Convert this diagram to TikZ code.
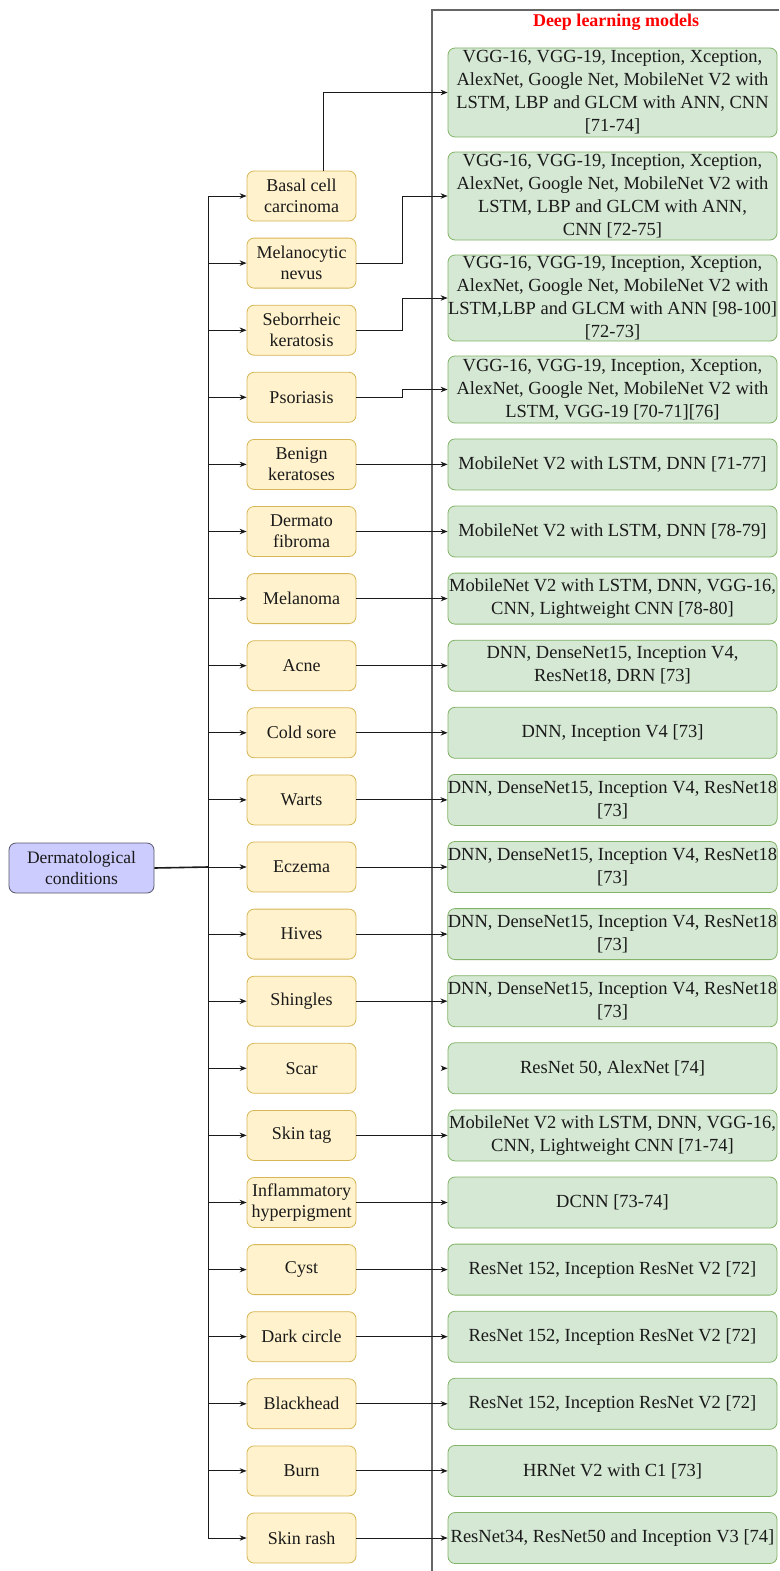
\documentclass[tikz,border=0pt]{standalone}
\usepackage{fontspec}
\setmainfont{Liberation Serif}
\usetikzlibrary{arrows.meta}
\definecolor{yfill}{HTML}{FFF2CC}
\definecolor{ystroke}{HTML}{D6B656}
\definecolor{gfill}{HTML}{D5E8D4}
\definecolor{gstroke}{HTML}{82B366}
\definecolor{rfill}{HTML}{CCCCFF}
\definecolor{rstroke}{HTML}{56566A}
\definecolor{framegray}{HTML}{666666}
\definecolor{ink}{HTML}{1A1A1A}
\tikzset{
  ybox/.style={draw=ystroke, fill=yfill, rounded corners=7pt, line width=0.8pt,
    minimum width=109pt, minimum height=50pt, inner sep=0pt, align=center,
    text=ink, font=\fontsize{18}{21}\selectfont},
  gbox/.style={draw=gstroke, fill=gfill, rounded corners=7pt, line width=0.8pt,
    minimum width=329pt, minimum height=51pt, inner sep=0pt, align=center,
    text=ink, font=\fontsize{18.5}{23}\selectfont},
  rbox/.style={draw=rstroke, fill=rfill, rounded corners=7pt, line width=0.8pt,
    minimum width=145pt, minimum height=50pt, inner sep=0pt, align=center,
    text=ink, font=\fontsize{17.5}{21}\selectfont},
  conn/.style={draw=ink, line width=0.9pt, -{Stealth[length=7pt,width=5.5pt]}},
  wire/.style={draw=ink, line width=0.9pt},
  heading/.style={text=red, font=\bfseries\fontsize{18}{21}\selectfont}
}
\begin{document}
\begin{tikzpicture}[x=1pt,y=-1pt]
\useasboundingbox (0,0) rectangle (779,1571);

% frame of the model column
\draw[framegray, line width=1.5pt] (432,1571) -- (432,10) -- (779,10);
\node[heading] (title) at (616,22) {Deep learning models};

% root
\node[rbox] (root) at (81.5,868) {Dermatological\\conditions};

% conditions with arrows from the bus
\foreach \lbl [count=\i] in {{Basal cell\\carcinoma},{Melanocytic\\nevus},{Seborrheic\\keratosis},
  {Psoriasis},{Benign\\keratoses},{Dermato\\fibroma},{Melanoma},{Acne},{Cold sore},{Warts},
  {Eczema},{Hives},{Shingles},{Scar},{Skin tag},{Inflammatory\\hyperpigment},{Cyst},
  {Dark circle},{Blackhead},{Burn},{Skin rash}}{
  \node[ybox] (y\i) at (301.5,{196+67.1*(\i-1)}) {\lbl};
  \coordinate (b\i) at (208,{196+67.1*(\i-1)});
  \draw[conn] (b\i) -- (y\i.west);
}
\draw[wire] (b1) -- (b21);
\draw[wire, line width=1.6pt] (root.east) -- (b11);

% model boxes
\node[gbox, minimum height=89pt] (g1) at (612.5,92.5) {VGG-16, VGG-19, Inception, Xception,\\AlexNet, Google Net, MobileNet V2 with\\LSTM, LBP and GLCM with ANN, CNN\\{}[71-74]};
\node[gbox, minimum height=88pt] (g2) at (612.5,196) {VGG-16, VGG-19, Inception, Xception,\\AlexNet, Google Net, MobileNet V2 with\\LSTM, LBP and GLCM with ANN,\\CNN [72-75]};
\node[gbox, minimum height=86pt] (g3) at (612.5,298) {VGG-16, VGG-19, Inception, Xception,\\AlexNet, Google Net, MobileNet V2 with\\LSTM,LBP and GLCM with ANN [98-100]\\{}[72-73]};
\node[gbox, minimum height=67pt] (g4) at (612.5,389.5) {VGG-16, VGG-19, Inception, Xception,\\AlexNet, Google Net, MobileNet V2 with\\LSTM, VGG-19 [70-71][76]};
\node[gbox] (g5) at (612.5,{196+67.1*4}) {MobileNet V2 with LSTM, DNN [71-77]};
\node[gbox] (g6) at (612.5,{196+67.1*5}) {MobileNet V2 with LSTM, DNN [78-79]};
\node[gbox] (g7) at (612.5,{196+67.1*6}) {MobileNet V2 with LSTM, DNN, VGG-16,\\CNN, Lightweight CNN [78-80]};
\node[gbox] (g8) at (612.5,{196+67.1*7}) {DNN, DenseNet15, Inception V4,\\ResNet18, DRN [73]};
\node[gbox] (g9) at (612.5,{196+67.1*8}) {DNN, Inception V4 [73]};
\node[gbox] (g10) at (612.5,{196+67.1*9}) {DNN, DenseNet15, Inception V4, ResNet18\\{}[73]};
\node[gbox] (g11) at (612.5,{196+67.1*10}) {DNN, DenseNet15, Inception V4, ResNet18\\{}[73]};
\node[gbox] (g12) at (612.5,{196+67.1*11}) {DNN, DenseNet15, Inception V4, ResNet18\\{}[73]};
\node[gbox] (g13) at (612.5,{196+67.1*12}) {DNN, DenseNet15, Inception V4, ResNet18\\{}[73]};
\node[gbox] (g14) at (612.5,{196+67.1*13}) {ResNet 50, AlexNet [74]};
\node[gbox] (g15) at (612.5,{196+67.1*14}) {MobileNet V2 with LSTM, DNN, VGG-16,\\CNN, Lightweight CNN [71-74]};
\node[gbox] (g16) at (612.5,{196+67.1*15}) {DCNN [73-74]};
\node[gbox] (g17) at (612.5,{196+67.1*16}) {ResNet 152, Inception ResNet V2 [72]};
\node[gbox] (g18) at (612.5,{196+67.1*17}) {ResNet 152, Inception ResNet V2 [72]};
\node[gbox] (g19) at (612.5,{196+67.1*18}) {ResNet 152, Inception ResNet V2 [72]};
\node[gbox] (g20) at (612.5,{196+67.1*19}) {HRNet V2 with C1 [73]};
\node[gbox] (g21) at (612.5,{196+67.1*20}) {ResNet34, ResNet50 and Inception V3 [74]};

% links from conditions to models
\draw[conn] ([xshift=21.5pt]y1.north) |- (g1.west);
\draw[conn] (y2.east) -- (402,{196+67.1}) |- (g2.west);
\draw[conn] (y3.east) -- (402,{196+67.1*2}) |- (g3.west);
\draw[conn] (y4.east) -- (402,{196+67.1*3}) |- (g4.west);
\foreach \i in {5,...,13,15,16,17,18,19,20,21}{
  \draw[conn] (y\i.east) -- (g\i.west);
}
\coordinate (s14) at ([xshift=-6pt]g14.west);
\draw[conn] (s14) -- (g14.west);
\end{tikzpicture}
\end{document}
